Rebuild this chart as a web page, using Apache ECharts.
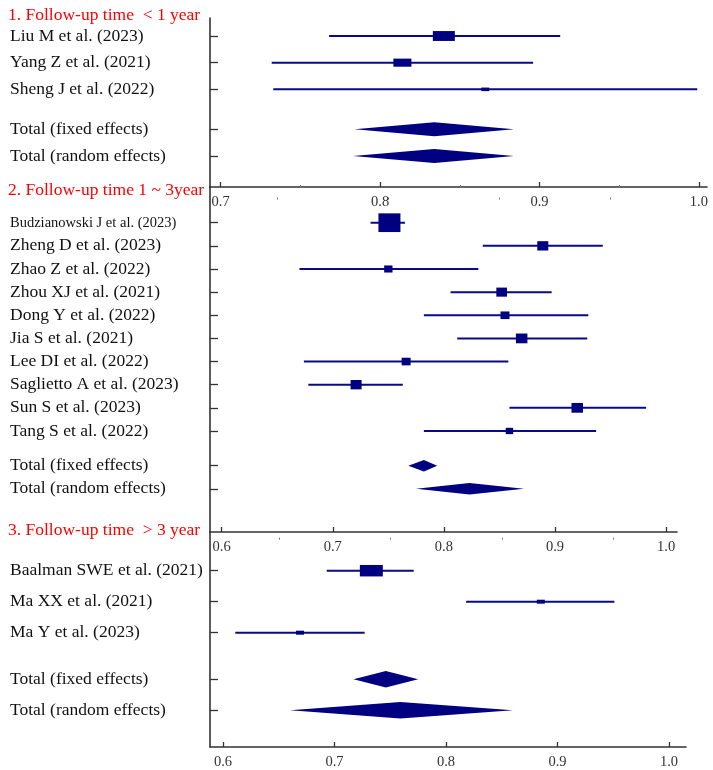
<!DOCTYPE html>
<html>
<head>
<meta charset="utf-8">
<script src="https://cdn.jsdelivr.net/npm/echarts@6/dist/echarts.min.js"></script>
<style>html,body{margin:0;padding:0;background:#fff}#c{width:713px;height:770px}</style>
</head>
<body>
<div id="c"></div>
<script>
// ---------- DATA ----------
const titles = ['1. Follow-up time  < 1 year', '2. Follow-up time 1 ~ 3year', '3. Follow-up time  > 3 year'];
const xTicks1 = [0.7, 0.8, 0.9, 1.0];
const xMinor1 = [0.75, 0.85, 0.95];
const xTicks23 = [0.6, 0.7, 0.8, 0.9, 1.0];
const xMinor23 = [0.65, 0.75, 0.85, 0.95];
const totalLabels = ['Total (fixed effects)', 'Total (random effects)'];

const p1Studies = ['Liu M et al. (2023)', 'Yang Z et al. (2021)', 'Sheng J et al. (2022)'];
const p1Est  = [0.840, 0.814, 0.866];
const p1Low  = [0.768, 0.732, 0.733];
const p1High = [0.913, 0.896, 0.999];
const p1Weight = [55.6, 37.2, 7.2];
const p1Fixed  = [0.784, 0.834, 0.884];
const p1Random = [0.783, 0.834, 0.884];

const p2Studies = ['Budzianowski J et al. (2023)', 'Zheng D et al. (2023)', 'Zhao Z et al. (2022)', 'Zhou XJ et al. (2021)', 'Dong Y et al. (2022)', 'Jia S et al. (2021)', 'Lee DI et al. (2022)', 'Saglietto A et al. (2023)', 'Sun S et al. (2023)', 'Tang S et al. (2022)'];
const p2Est  = [0.751, 0.889, 0.750, 0.852, 0.855, 0.870, 0.766, 0.721, 0.920, 0.859];
const p2Low  = [0.734, 0.835, 0.670, 0.806, 0.782, 0.812, 0.674, 0.678, 0.859, 0.782];
const p2High = [0.765, 0.943, 0.831, 0.897, 0.930, 0.929, 0.858, 0.763, 0.982, 0.937];
const p2Weight = [34.8, 8.7, 5.0, 8.2, 5.8, 9.5, 5.8, 8.7, 9.5, 4.0];
const p2Fixed  = [0.768, 0.782, 0.794];
const p2Random = [0.775, 0.823, 0.872];

const p3Studies = ['Baalman SWE et al. (2021)', 'Ma XX et al. (2021)', 'Ma Y et al. (2023)'];
const p3Est  = [0.733, 0.885, 0.669];
const p3Low  = [0.693, 0.818, 0.611];
const p3High = [0.771, 0.951, 0.727];
const p3Weight = [80.5, 9.7, 9.8];
const p3Fixed  = [0.717, 0.746, 0.775];
const p3Random = [0.660, 0.759, 0.860];

// ---------- LAYOUT / STYLE ----------
const NAVY = '#000080';
const AXIS = '#333333';
const FONT = '"Liberation Serif", "Times New Roman", serif';

const panels = [
  { studies: p1Studies, est: p1Est, low: p1Low, high: p1High, w: p1Weight, fixed: p1Fixed, random: p1Random,
    grid: { left: 210, top: 18, width: 497, height: 169 }, xMin: 0.6933, xMax: 1.0051, yMin: 0.325, yMax: 6.662,
    ticks: xTicks1, minor: xMinor1, k: 2.95, aspect: 0.45, dh: 14, titleY: 15 },
  { studies: p2Studies, est: p2Est, low: p2Low, high: p2High, w: p2Weight, fixed: p2Fixed, random: p2Random,
    grid: { left: 210, top: 187, width: 467, height: 345 }, xMin: 0.5895, xMax: 1.0098, yMin: -0.543, yMax: 14.366,
    ticks: xTicks23, minor: xMinor23, k: 3.73, aspect: 0.85, dh: 11.5, titleY: 190 },
  { studies: p3Studies, est: p3Est, low: p3Low, high: p3High, w: p3Weight, fixed: p3Fixed, random: p3Random,
    grid: { left: 210, top: 532, width: 476, height: 215 }, xMin: 0.5883, xMax: 1.0152, yMin: -0.248, yMax: 6.687,
    ticks: xTicks23, minor: xMinor23, k: 2.56, aspect: 0.5, dh: 16.5, titleY: 530 }
];

const grids = [], xAxes = [], yAxes = [], series = [], graphics = [];

panels.forEach((p, gi) => {
  const n = p.studies.length;
  const pos = p.studies.map((_, i) => i + 1);
  const fixedPos = n + 1.5, randomPos = n + 2.5;
  const allPos = pos.concat([fixedPos, randomPos]);
  const allNames = p.studies.concat(totalLabels);

  grids.push(Object.assign({ outerBoundsMode: 'none', containLabel: false }, p.grid));

  xAxes.push({
    type: 'value', gridIndex: gi, position: 'bottom', min: p.xMin, max: p.xMax,
    axisLine: { show: true, onZero: false, lineStyle: { color: AXIS, width: 1.6 } },
    axisTick: { show: true, inside: true, length: 5, customValues: p.ticks, lineStyle: { color: AXIS, width: 1.3 } },
    axisLabel: { show: true, customValues: p.ticks, margin: 8, color: '#333', fontFamily: FONT, fontSize: 14.5,
      formatter: v => v.toFixed(1) },
    splitLine: { show: false }
  });
  xAxes.push({
    type: 'value', gridIndex: gi, position: 'bottom', min: p.xMin, max: p.xMax,
    axisLine: { show: false },
    axisTick: { show: true, inside: true, length: 2, customValues: p.minor, lineStyle: { color: '#777', width: 1 } },
    axisLabel: { show: false },
    splitLine: { show: false }
  });

  yAxes.push({
    type: 'value', gridIndex: gi, inverse: true, min: p.yMin, max: p.yMax,
    axisLine: { show: true, onZero: false, lineStyle: { color: AXIS, width: 1.6 } },
    axisTick: { show: true, inside: true, length: 8, customValues: allPos, lineStyle: { color: AXIS, width: 1.3 } },
    axisLabel: {
      show: true, customValues: allPos, align: 'left', margin: 200, color: '#111',
      fontFamily: FONT, fontSize: 17.5,
      formatter: v => {
        const idx = allPos.findIndex(q => Math.abs(q - v) < 1e-6);
        const name = idx >= 0 ? allNames[idx] : '';
        return name.length > 26 ? '{s|' + name + '}' : name;
      },
      rich: { s: { fontFamily: FONT, fontSize: 14.5, color: '#111' } }
    },
    splitLine: { show: false }
  });

  const studyData = p.studies.map((_, i) => [p.low[i], p.est[i], p.high[i], pos[i], p.w[i]]);
  const k = p.k, aspect = p.aspect;
  series.push({
    type: 'custom', xAxisIndex: gi * 2, yAxisIndex: gi, clip: false,
    encode: { x: [0, 1, 2], y: 3 },
    data: studyData,
    renderItem: (params, api) => {
      const lo = api.coord([api.value(0), api.value(3)]);
      const hi = api.coord([api.value(2), api.value(3)]);
      const c = api.coord([api.value(1), api.value(3)]);
      const bw = k * Math.sqrt(api.value(4));
      const bh = bw * aspect;
      return { type: 'group', children: [
        { type: 'line', shape: { x1: lo[0], y1: lo[1], x2: hi[0], y2: hi[1] }, style: { stroke: '#0a0a88', lineWidth: 2 } },
        { type: 'rect', shape: { x: c[0] - bw / 2, y: c[1] - bh / 2, width: bw, height: bh }, style: { fill: NAVY } }
      ] };
    }
  });

  const dh = p.dh;
  series.push({
    type: 'custom', xAxisIndex: gi * 2, yAxisIndex: gi, clip: false,
    encode: { x: [0, 1, 2], y: 3 },
    data: [p.fixed.concat([fixedPos]), p.random.concat([randomPos])],
    renderItem: (params, api) => {
      const y = api.value(3);
      const a = api.coord([api.value(0), y]);
      const m = api.coord([api.value(1), y]);
      const b = api.coord([api.value(2), y]);
      return { type: 'polygon', shape: { points: [[a[0], a[1]], [m[0], m[1] - dh / 2], [b[0], b[1]], [m[0], m[1] + dh / 2]] },
        style: { fill: NAVY } };
    }
  });

  graphics.push({ type: 'text', x: 8, y: p.titleY, style: { text: titles[gi], fill: '#ff0000', font: '17.5px ' + FONT, align: 'left', verticalAlign: 'middle' } });
});

const chart = echarts.init(document.getElementById('c'), null, { renderer: 'canvas' });
chart.setOption({
  backgroundColor: '#fff',
  animation: false,
  grid: grids,
  xAxis: xAxes,
  yAxis: yAxes,
  series: series,
  graphic: graphics
});
</script>
</body>
</html>
